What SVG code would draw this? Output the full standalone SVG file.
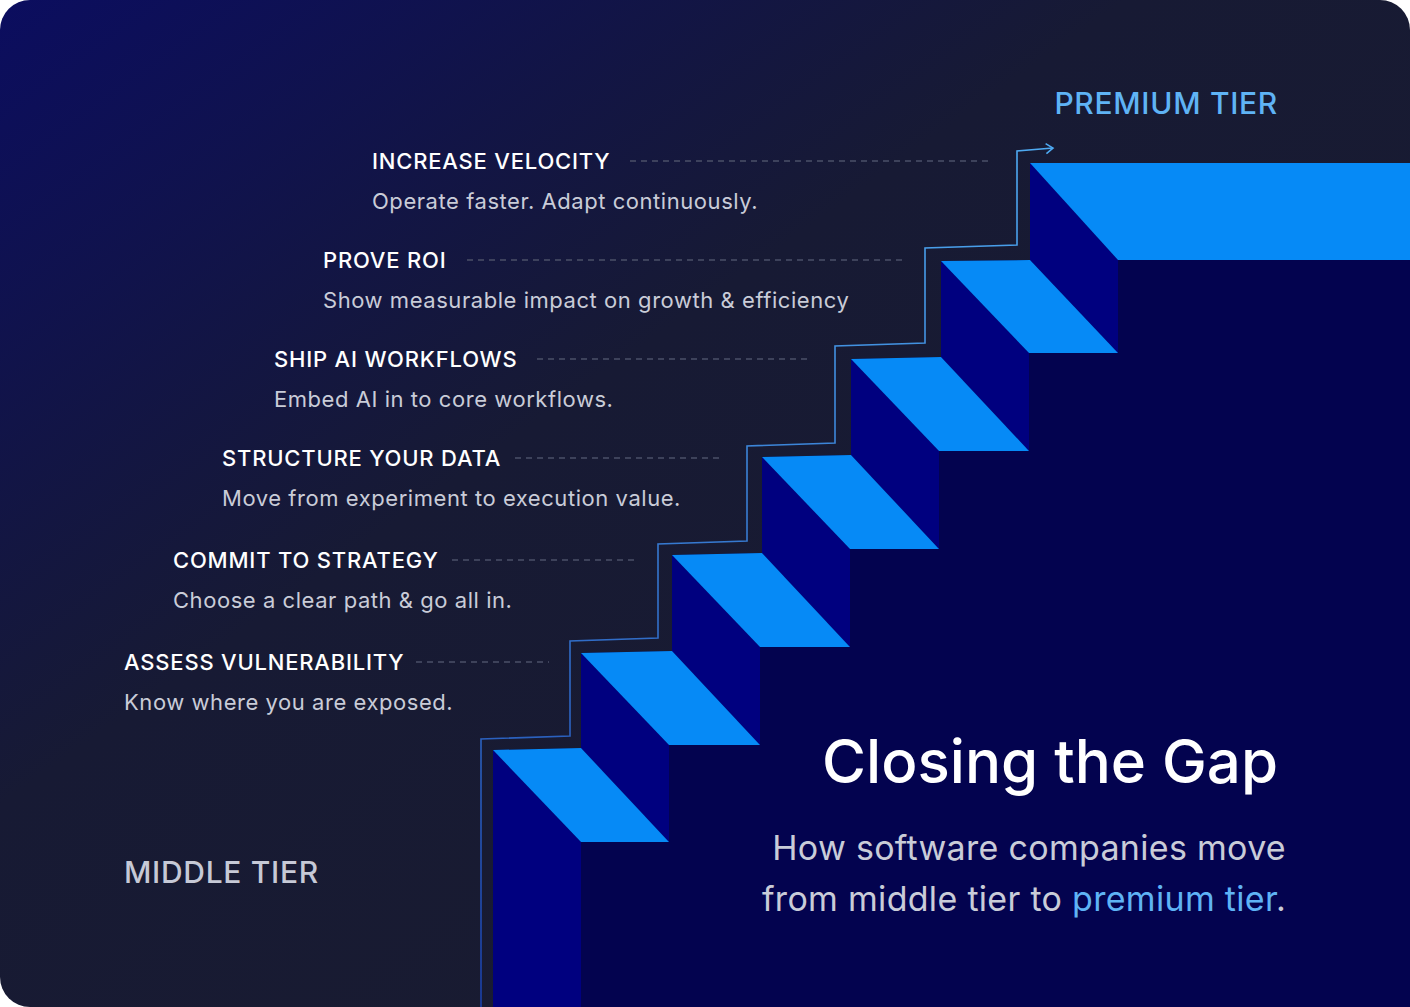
<svg xmlns="http://www.w3.org/2000/svg" width="1410" height="1007" viewBox="0 0 1410 1007">
<defs>
<linearGradient id="bg" x1="0" y1="0" x2="1" y2="1" gradientUnits="objectBoundingBox">
<stop offset="0" stop-color="#0b0d5f"/><stop offset="0.4" stop-color="#171a34"/><stop offset="1" stop-color="#1a1c2e"/>
</linearGradient>
<linearGradient id="ln" x1="0" y1="1007" x2="0" y2="148" gradientUnits="userSpaceOnUse">
<stop offset="0" stop-color="#1a3fa8"/><stop offset="1" stop-color="#4eaaf2"/>
</linearGradient>
<marker id="ah" markerWidth="12" markerHeight="12" refX="10" refY="6" orient="auto" markerUnits="userSpaceOnUse">
<path d="M3,1 L10,6 L3,11" fill="none" stroke="#4eaaf2" stroke-width="1.6"/>
</marker>
<style>
.t{font-family:Inter,"Noto Sans",sans-serif;font-size:22px;font-weight:500;fill:#ffffff;letter-spacing:0.8px}
.s{font-family:Inter,"Noto Sans",sans-serif;font-size:22px;fill:#c9ccd8;letter-spacing:0.55px}
.d{stroke:#4b5068;stroke-width:1.3;stroke-dasharray:6 5}
.f{fill:#068af6}.r{fill:#00007f}
</style>
</defs>
<rect width="1410" height="1007" rx="30" fill="url(#bg)"/>
<g id="stairs">
<polygon fill="#03034f" points="493,1007 493,750 581,748 581,653 672,651 672,555 762,553 762,457 851,455 851,359 941,357 941,261 1030,260 1030,163 1410,163 1410,1007"/>
<polygon class="r" points="493,750 581,842 581,1007 493,1007"/>
<polygon class="r" points="581,653 669,745 669,842 581,748"/>
<polygon class="r" points="672,555 760,647 760,745 672,651"/>
<polygon class="r" points="762,457 850,549 850,647 762,553"/>
<polygon class="r" points="851,359 939,451 939,549 851,455"/>
<polygon class="r" points="941,261 1029,353 1029,451 941,357"/>
<polygon class="r" points="1030,163 1118,260 1118,353 1030,260"/>
<polygon class="f" points="493,750 581,748 669,842 581,842"/>
<polygon class="f" points="581,653 672,651 760,745 669,745"/>
<polygon class="f" points="672,555 762,553 850,647 760,647"/>
<polygon class="f" points="762,457 851,455 939,549 850,549"/>
<polygon class="f" points="851,359 941,357 1029,451 939,451"/>
<polygon class="f" points="941,261 1030,260 1118,353 1029,353"/>
<polygon class="f" points="1030,163 1410,163 1410,260 1118,260"/>
</g>
<g id="connectors">
<polyline fill="none" stroke="url(#ln)" stroke-width="1.6" marker-end="url(#ah)" points="481,1007 481,739 570,736 570,641 658,638 658,544 747,541 747,446 835,443 835,346 925,343 925,248 1017,245 1017,151 1053,148"/>
<line class="d" x1="630" y1="161" x2="988" y2="161"/>
<line class="d" x1="467" y1="260" x2="903" y2="260"/>
<line class="d" x1="537" y1="359" x2="808" y2="359"/>
<line class="d" x1="515" y1="458" x2="724" y2="458"/>
<line class="d" x1="452" y1="560" x2="638" y2="560"/>
<line class="d" x1="416" y1="662" x2="549" y2="662"/>
</g>
<g id="n1"><text class="t" x="372" y="169">INCREASE VELOCITY</text><text class="s" x="372" y="209">Operate faster. Adapt continuously.</text></g>
<g id="n2"><text class="t" x="323" y="268">PROVE ROI</text><text class="s" x="323" y="308">Show measurable impact on growth &amp; efficiency</text></g>
<g id="n3"><text class="t" x="274" y="367">SHIP AI WORKFLOWS</text><text class="s" x="274" y="407">Embed AI in to core workflows.</text></g>
<g id="n4"><text class="t" x="222" y="466">STRUCTURE YOUR DATA</text><text class="s" x="222" y="506">Move from experiment to execution value.</text></g>
<g id="n5"><text class="t" x="173" y="568">COMMIT TO STRATEGY</text><text class="s" x="173" y="608">Choose a clear path &amp; go all in.</text></g>
<g id="n6"><text class="t" x="124" y="670">ASSESS VULNERABILITY</text><text class="s" x="124" y="710">Know where you are exposed.</text></g>
<g id="premium"><text x="1278" y="114" text-anchor="end" font-family="Inter,'Noto Sans',sans-serif" font-size="30" font-weight="500" fill="#5fb3f5" letter-spacing="0.7">PREMIUM TIER</text></g>
<g id="middle"><text x="124" y="883" font-family="Inter,'Noto Sans',sans-serif" font-size="30" font-weight="500" fill="#c6c9d6" letter-spacing="0.7">MIDDLE TIER</text></g>
<g id="title">
<text x="1278" y="783" text-anchor="end" font-family="Inter,'Noto Sans',sans-serif" font-size="60" font-weight="500" fill="#ffffff">Closing the Gap</text>
<text x="1286" y="860" text-anchor="end" font-family="Inter,'Noto Sans',sans-serif" font-size="34" fill="#c9ccd8" letter-spacing="0.3">How software companies move</text>
<text x="1286" y="911" text-anchor="end" font-family="Inter,'Noto Sans',sans-serif" font-size="34" fill="#c9ccd8" letter-spacing="0.3">from middle tier to <tspan fill="#5fb3f5">premium tier</tspan>.</text>
</g>
</svg>
